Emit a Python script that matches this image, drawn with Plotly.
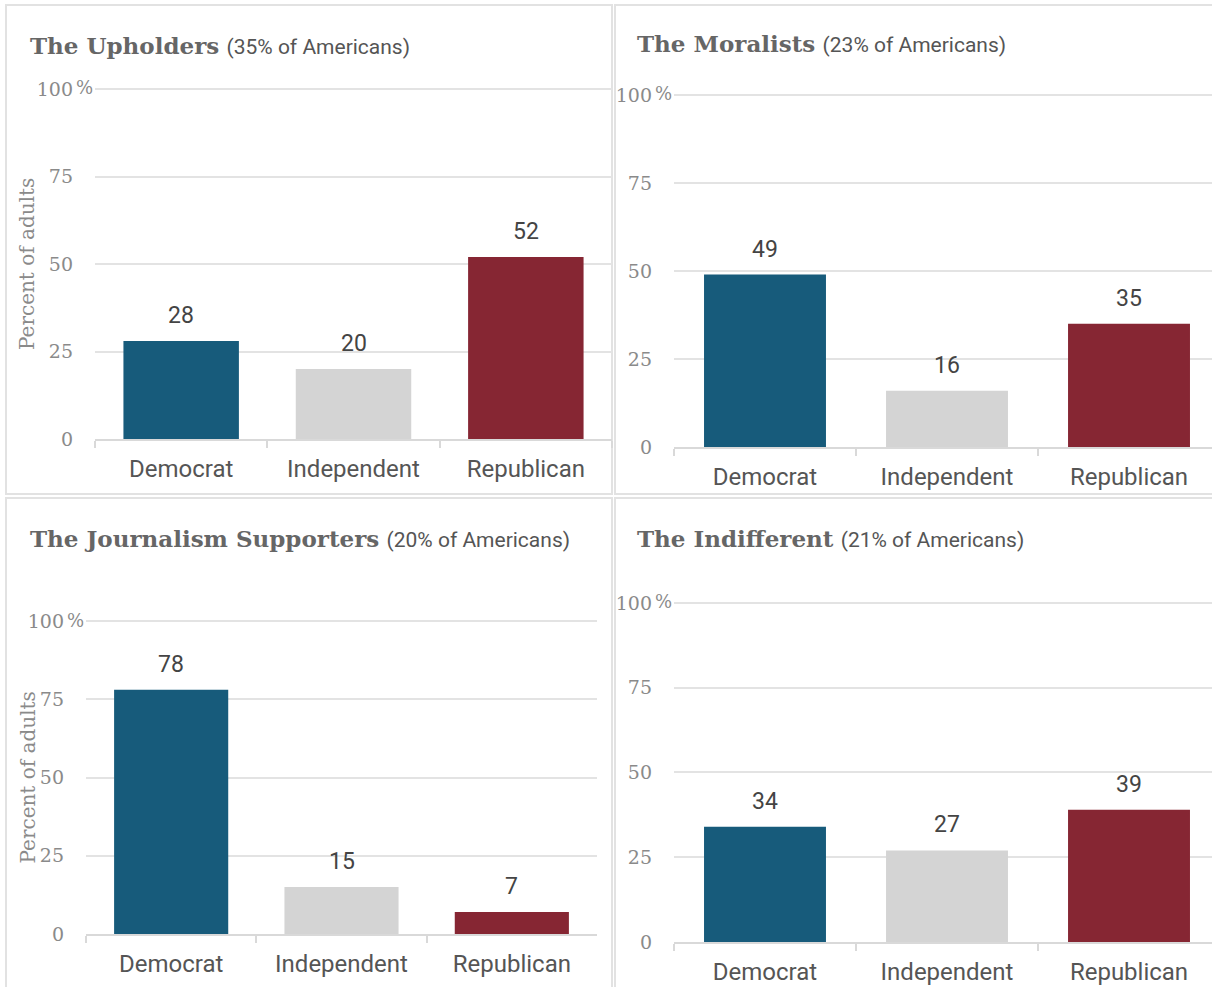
import plotly.graph_objects as go

W, H = 1212, 987

parties = ["Democrat", "Independent", "Republican"]
party_colors = ["#175b7b", "#d4d4d4", "#862633"]

titles = ["The Upholders", "The Moralists", "The Journalism Supporters", "The Indifferent"]
subtitles = ["(35% of Americans)", "(23% of Americans)", "(20% of Americans)", "(21% of Americans)"]

upholders = [28, 20, 52]
moralists = [49, 16, 35]
supporters = [78, 15, 7]
indifferent = [34, 27, 39]
panel_values = [upholders, moralists, supporters, indifferent]

y_ticks = [0, 25, 50, 75, 100]
y_ticktext = ["0", "25", "50", "75", "100"]
axis_title = "Percent of adults"
Y_MAX = 100.6  # slightly above 100 so the top gridline is drawn

# layout in pixels
panels = [
    dict(x0=95, x1=612, ytop=89, ybot=439, xmax=2.5, tx=28, ty=46, ytitle=True,
         box=(6, 612, 5, 494)),
    dict(x0=674, x1=1212, ytop=95, ybot=447, xmax=2.456, tx=635, ty=43, ytitle=False,
         box=(615, 1230, 5, 494)),
    dict(x0=86, x1=597, ytop=621, ybot=934, xmax=2.5, tx=28, ty=538, ytitle=True,
         box=(6, 612, 498, 1000)),
    dict(x0=674, x1=1212, ytop=603, ybot=942, xmax=2.456, tx=635, ty=538, ytitle=False,
         box=(615, 1230, 498, 1000)),
]

def px_x(v):
    return v / W

def px_y(v):
    return 1 - v / H

fig = go.Figure()
annotations = []
shapes = []

TICK_FONT = dict(family="DejaVu Serif", size=19, color="#8a8a8a")
CAT_FONT = dict(family="Roboto", size=24, color="#555555")
VAL_FONT = dict(family="Roboto", size=23, color="#444444")

for i, (p, vals) in enumerate(zip(panels, panel_values)):
    n = i + 1
    xa = "x" if n == 1 else f"x{n}"
    ya = "y" if n == 1 else f"y{n}"
    fig.add_trace(go.Bar(
        x=parties, y=vals, marker=dict(color=party_colors, line=dict(width=0)),
        width=0.67, xaxis=xa, yaxis=ya, showlegend=False, hoverinfo="x+y",
    ))
    xkey = "xaxis" if n == 1 else f"xaxis{n}"
    ykey = "yaxis" if n == 1 else f"yaxis{n}"
    top_px = p["ybot"] - (p["ybot"] - p["ytop"]) * Y_MAX / 100
    fig.update_layout(**{
        xkey: dict(
            domain=[px_x(p["x0"]), px_x(p["x1"])], anchor=ya, type="category",
            range=[-0.5, p["xmax"]], tickson="boundaries", ticks="outside",
            ticklen=7, tickwidth=2, tickcolor="#d9d9d9", showline=True,
            linecolor="#d9d9d9", linewidth=2, showgrid=False, tickfont=CAT_FONT,
            ticklabelstandoff=7, fixedrange=True, automargin=False,
        ),
        ykey: dict(
            domain=[px_y(p["ybot"]), px_y(top_px)], anchor=xa, range=[0, Y_MAX],
            tickvals=y_ticks, ticktext=y_ticktext, showgrid=True,
            gridcolor="#e3e3e3", gridwidth=1.5, zeroline=False, showline=False,
            tickfont=TICK_FONT, ticklabelstandoff=21, fixedrange=True, automargin=False,
        ),
    })
    # value labels
    for cat, v in zip(parties, vals):
        annotations.append(dict(
            x=cat, y=v, xref=xa, yref=ya, text=str(v), showarrow=False,
            yanchor="bottom", yshift=10, font=VAL_FONT,
        ))
    # percent sign next to 100
    annotations.append(dict(
        x=0, y=100, xref=f"{xa} domain", yref=ya, text="%", showarrow=False,
        xanchor="right", yanchor="middle", xshift=0, yshift=1,
        font=dict(family="DejaVu Serif", size=18, color="#8a8a8a"),
    ))
    # panel title
    annotations.append(dict(
        x=px_x(p["tx"]), y=px_y(p["ty"]), xref="paper", yref="paper",
        xanchor="left", yanchor="middle", showarrow=False,
        text=(f"<b>{titles[i]}</b> "
              f"<span style='font-family:Roboto;font-size:21px;color:#555555'>{subtitles[i]}</span>"),
        font=dict(family="DejaVu Serif", size=23, color="#666666"),
    ))
    if p["ytitle"]:
        annotations.append(dict(
            x=px_x(27), y=px_y((p["ytop"] + p["ybot"]) / 2), xref="paper", yref="paper",
            text=axis_title, textangle=-90, showarrow=False,
            xanchor="center", yanchor="middle",
            font=dict(family="DejaVu Serif", size=20, color="#8a8a8a"),
        ))
    bx0, bx1, by0, by1 = p["box"]
    shapes.append(dict(
        type="rect", xref="paper", yref="paper",
        x0=px_x(bx0), x1=px_x(bx1), y0=px_y(by1), y1=px_y(by0),
        line=dict(color="#e2e2e2", width=2), fillcolor="rgba(0,0,0,0)", layer="below",
    ))

fig.update_layout(
    width=W, height=H, margin=dict(l=0, r=0, t=0, b=0, autoexpand=False),
    paper_bgcolor="white", plot_bgcolor="white",
    annotations=annotations, shapes=shapes, bargap=0.33,
)

fig.write_html(
    "out.html",
    config={"displayModeBar": False},
    post_script="document.body.style.margin='0';document.body.style.overflow='hidden';",
)
